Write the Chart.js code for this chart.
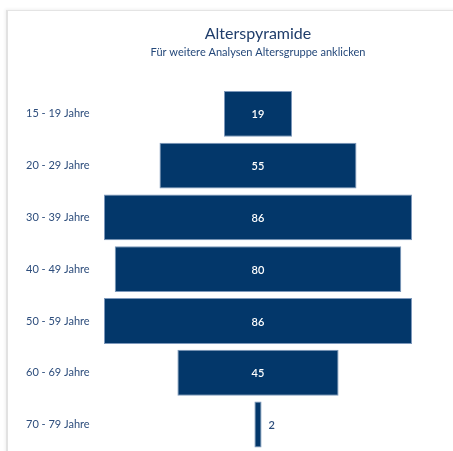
<!DOCTYPE html>
<html>
<head>
<meta charset="utf-8">
<script src="https://cdn.jsdelivr.net/npm/chart.js@4.4.1/dist/chart.umd.min.js"></script>
<style>
  html, body { margin: 0; padding: 0; width: 453px; height: 451px; overflow: hidden; background: #fff; }
  .card { position: absolute; left: 6px; top: 10px; width: 600px; height: 600px;
          border-left: 2px solid #e2e2e2; border-top: 1px solid #e4e4e4;
          box-shadow: -1px -1px 3px rgba(0,0,0,0.06); }
  #pyramid { position: absolute; left: 0; top: 0; }
</style>
</head>
<body>
<div class="card"></div>
<canvas id="pyramid" width="490" height="460"></canvas>
<script>
"use strict";

const ageGroups = ['15 - 19 Jahre', '20 - 29 Jahre', '30 - 39 Jahre', '40 - 49 Jahre', '50 - 59 Jahre', '60 - 69 Jahre', '70 - 79 Jahre'];
const headcount = [19, 55, 86, 80, 86, 45, 2];

const BAR_COLOR = '#03376a';
const TEXT_BLUE = '#2d4d7c';

// Balken um die Mitte zentrieren (Pyramide)
const centeredBars = headcount.map(v => [-v / 2, v / 2]);

const barLabels = {
    id: 'barLabels',
    afterDatasetsDraw(chart) {
        const ctx = chart.ctx;
        const meta = chart.getDatasetMeta(0);
        ctx.save();
        ctx.font = '600 11px Lato, "Open Sans", sans-serif';
        ctx.textBaseline = 'middle';
        meta.data.forEach((bar, i) => {
            const left = Math.min(bar.x, bar.base);
            const right = Math.max(bar.x, bar.base);
            const text = String(headcount[i]);
            if (right - left > 25) {
                ctx.fillStyle = '#ffffff';
                ctx.textAlign = 'center';
                ctx.fillText(text, (left + right) / 2, bar.y + 1);
            } else {
                ctx.fillStyle = TEXT_BLUE;
                ctx.textAlign = 'left';
                ctx.fillText(text, right + 7, bar.y + 1);
            }
        });
        ctx.restore();
    }
};

new Chart(document.getElementById('pyramid'), {
    type: 'bar',
    data: {
        labels: ageGroups,
        datasets: [{
            data: centeredBars,
            backgroundColor: BAR_COLOR,
            borderColor: '#7d98bb',
            borderWidth: 1,
            borderSkipped: false,
            barPercentage: 0.885,
            categoryPercentage: 1
        }]
    },
    options: {
        indexAxis: 'y',
        responsive: false,
        animation: false,
        layout: { padding: { left: 26, right: 0, top: 0, bottom: 7 } },
        plugins: {
            legend: { display: false },
            tooltip: { enabled: false },
            title: {
                display: true,
                text: 'Alterspyramide',
                color: '#1f3d6b',
                font: { family: 'Lato, "Open Sans", sans-serif', size: 16, lineHeight: 1.2, weight: 'normal' },
                padding: { top: 24, bottom: 0 }
            },
            subtitle: {
                display: true,
                text: 'Für weitere Analysen Altersgruppe anklicken',
                color: '#24487a',
                font: { family: 'Lato, "Open Sans", sans-serif', size: 11, lineHeight: 1.2 },
                padding: { top: 2.2, bottom: 29.4 }
            }
        },
        scales: {
            x: { display: false, min: -45.23, max: 64.78 },
            y: {
                grid: { display: false },
                border: { display: false },
                ticks: {
                    crossAlign: 'far',
                    color: TEXT_BLUE,
                    font: { family: 'Lato, "Open Sans", sans-serif', size: 11 }
                },
                afterFit(scale) { scale.width = 70; }
            }
        }
    },
    plugins: [barLabels]
});
</script>
</body>
</html>
